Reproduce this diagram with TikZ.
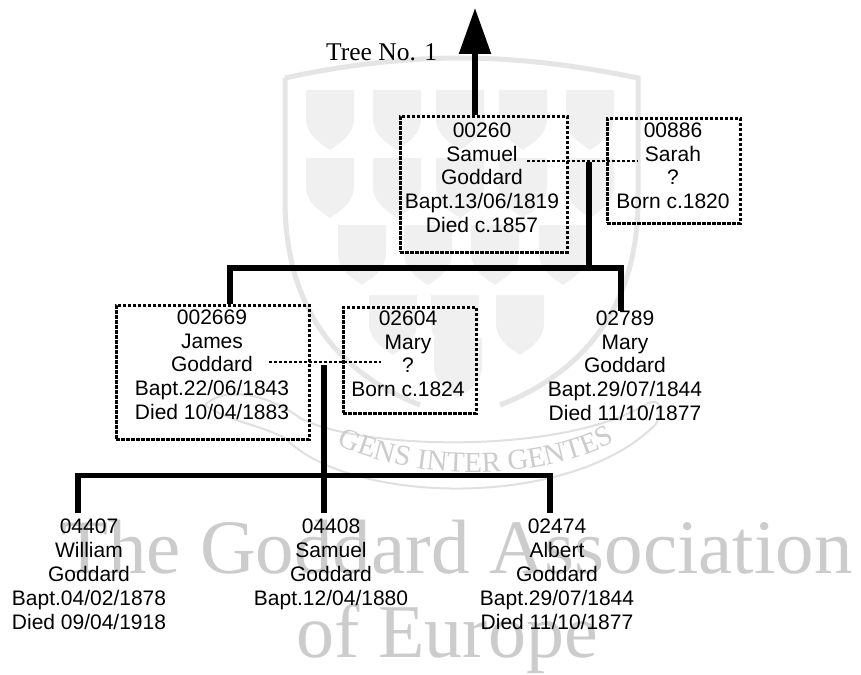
\documentclass[tikz,border=0pt]{standalone}
\usepackage{fontspec}
\setmainfont{Liberation Sans}
\newfontfamily\serifwm{Liberation Serif}
\usetikzlibrary{arrows.meta,decorations.text}
\tikzset{
  x=1pt,y=-1pt,
  person/.style={align=center,anchor=north,inner sep=0pt,font=\fontsize{21}{23.8}\selectfont},
  partner/.style={draw=black,line width=2.8pt,dash pattern=on 3.4pt off 1.6pt,inner sep=0pt,anchor=north west},
  marriage/.style={draw=black,line width=2.8pt,dash pattern=on 3.4pt off 1.6pt},
  descent/.style={draw=black,line width=5.5pt,line cap=butt,line join=miter},
  wmshield/.style={fill=black!6,draw=none},
  wmline/.style={draw=black!10,line width=3pt},
  wmthin/.style={draw=black!12,line width=2pt},
  wmtext/.style={text=black!20,inner sep=0pt,anchor=base,font=\fontsize{77}{80}\serifwm},
  treelabel/.style={anchor=base west,inner sep=0pt,font=\fontsize{25.5}{28}\serifwm},
  pics/wshield/.style={code={\fill[wmshield] (-24,0) -- (24,0) -- (24,28) .. controls (24,46) and (8,54) .. (0,60) .. controls (-8,54) and (-24,46) .. (-24,28) -- cycle;}}
}
\begin{document}
\begin{tikzpicture}
\useasboundingbox (0,0) rectangle (861,674);
\fill[white] (0,0) rectangle (861,674);
% watermark
\foreach \p in {330,397,460,523,590} {\pic at (\p,90) {wshield};}
\foreach \p in {330,397,460,523,590} {\pic at (\p,158) {wshield};}
\foreach \p in {362,428,495,563} {\pic at (\p,225) {wshield};}
\foreach \p in {393,455,520} {\pic at (\p,295) {wshield};}
\pic at (458,338) {wshield};
\draw[wmline,line width=5pt] (285,78) .. controls (340,66) and (400,58) .. (460,58) .. controls (520,58) and (580,66) .. (638,78)
  -- (638,200) .. controls (638,300) and (590,370) .. (500,405);
\draw[wmline,line width=5pt] (285,78) -- (285,200) .. controls (285,300) and (330,370) .. (420,405);
\draw[wmthin] (300,418) .. controls (360,450) and (560,455) .. (645,405);
\draw[wmthin] (285,438) .. controls (350,505) and (570,510) .. (655,425);
\draw[wmthin] (300,418) .. controls (270,395) and (225,385) .. (205,405) .. controls (225,420) and (260,425) .. (285,438);
\draw[wmthin] (645,405) .. controls (660,395) and (665,410) .. (655,425);
\path[postaction={decorate,decoration={text along path,text align=center,
   text={|\fontsize{29}{30}\serifwm\color{black!20}|GENS INTER GENTES}}}]
   (312,428) .. controls (380,485) and (560,490) .. (640,425);
\node[wmtext] (wma) at (457,573) {The Goddard Association};
\node[wmtext,font=\fontsize{76}{80}\serifwm] (wmb) at (447,657) {of Europe};
% boxes
\node[partner,minimum width=167pt,minimum height=136pt] (b260) at (399,115) {};
\node[partner,minimum width=133pt,minimum height=105pt] (b886) at (606,117) {};
\node[partner,minimum width=193pt,minimum height=134pt] (b2669) at (115,304) {};
\node[partner,minimum width=133pt,minimum height=106pt] (b2604) at (342,306) {};
% people
\node[person] (p260) at (482,122.5) {00260\\Samuel\\Goddard\\Bapt.13/06/1819\\Died c.1857};
\node[person] (p886) at (673,122.5) {00886\\Sarah\\?\\Born c.1820};
\node[person] (p2669) at (212,309.5) {002669\\James\\Goddard\\Bapt.22/06/1843\\Died 10/04/1883};
\node[person] (p2604) at (408,310.5) {02604\\Mary\\?\\Born c.1824};
\node[person] (p2789) at (625,310.5) {02789\\Mary\\Goddard\\Bapt.29/07/1844\\Died 11/10/1877};
\node[person] (p4407) at (89,519) {04407\\William\\Goddard\\Bapt.04/02/1878\\Died 09/04/1918};
\node[person] (p4408) at (331,519) {04408\\Samuel\\Goddard\\Bapt.12/04/1880};
\node[person] (p2474) at (557,519) {02474\\Albert\\Goddard\\Bapt.29/07/1844\\Died 11/10/1877};
\node[treelabel] (tree) at (326,61) {Tree No. 1};
% marriage lines
\coordinate (m1a) at (527,161);
\coordinate (m1b) at (638,161);
\coordinate (m2a) at (269,362);
\coordinate (m2b) at (381,362);
\draw[marriage] (m1a) -- (m1b);
\draw[marriage] (m2a) -- (m2b);
% descent lines
\coordinate (top) at (475,8);
\coordinate (j1) at (589,162);
\coordinate (h1) at (589,268);
\coordinate (j2) at (324,365);
\coordinate (h2) at (324,475.5);
\coordinate (k1) at (230,0);
\coordinate (k2) at (621,0);
\coordinate (c1) at (78,513);
\coordinate (c2) at (324,513);
\coordinate (c3) at (550,513);
\draw[descent,-{Triangle[width=31pt,length=46pt]}] (b260.north -| top) -- (top);
\draw[descent] (j1) -- (h1);
\draw[descent] (k1 |- b2669.north) |- (h1) -| (k2 |- p2789.north);
\draw[descent] (j2) -- (h2);
\draw[descent] (c1) |- (h2) -| (c3);
\draw[descent] (h2) -- (c2);
\end{tikzpicture}
\end{document}
